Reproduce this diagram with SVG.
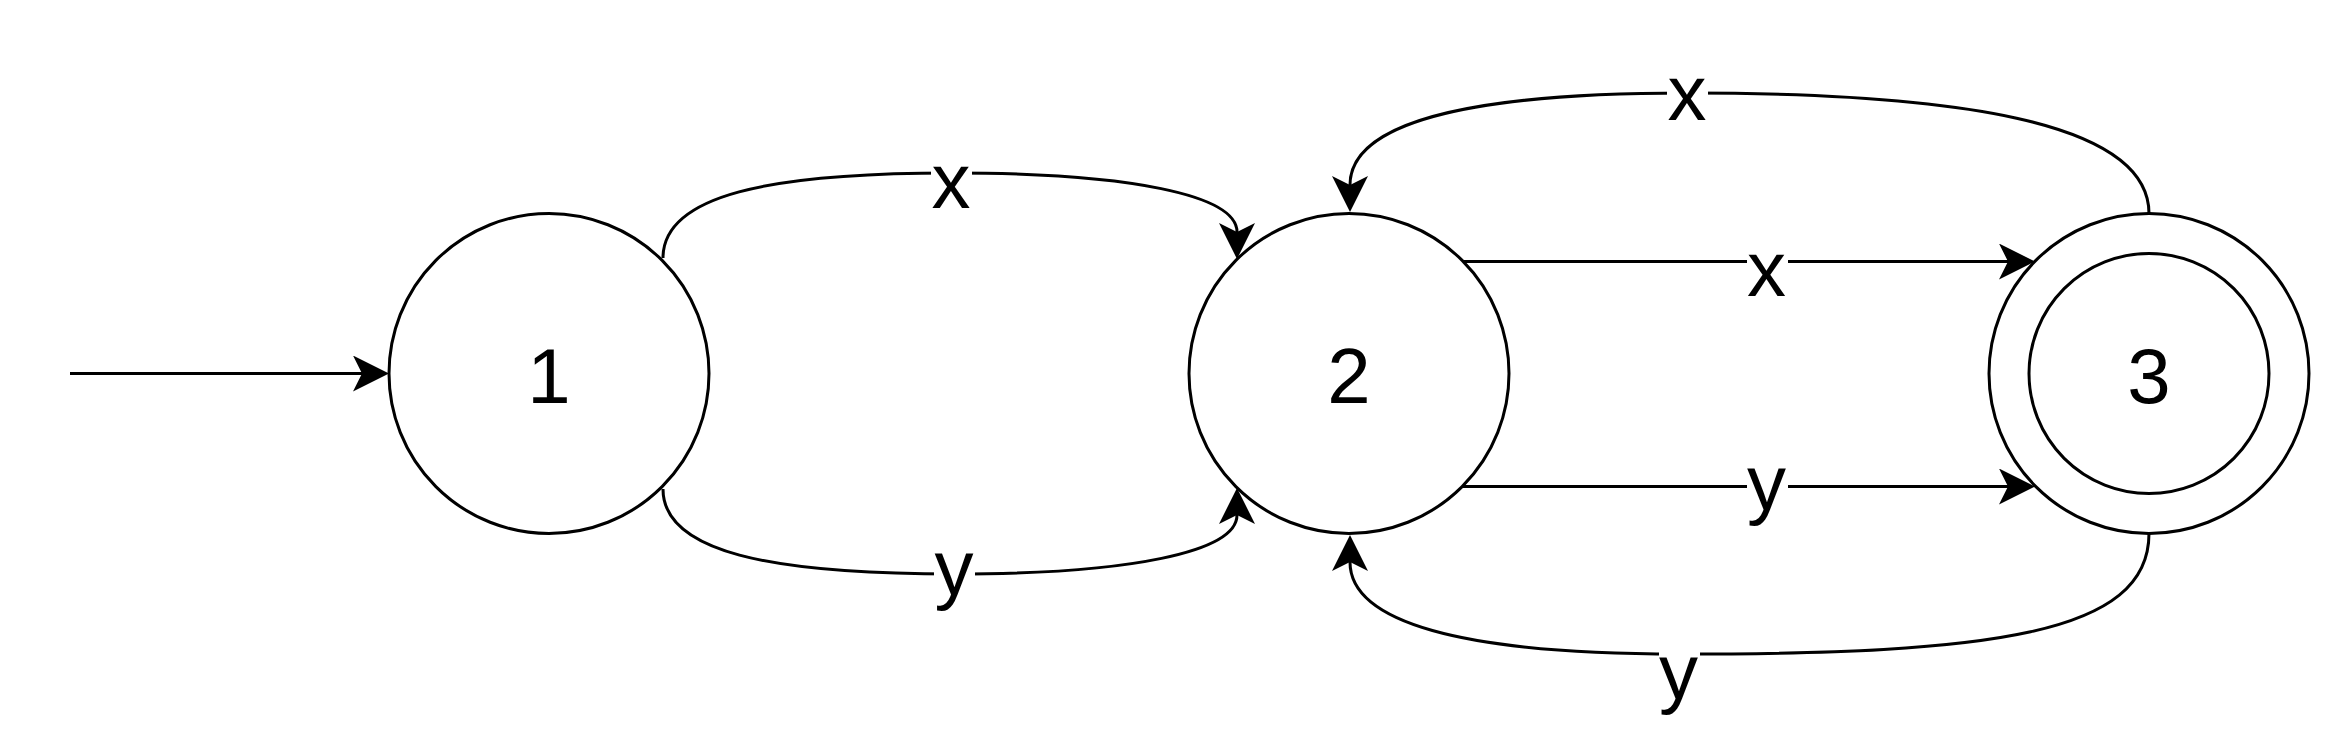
<svg xmlns="http://www.w3.org/2000/svg" width="2352" height="756" viewBox="0 0 2352 756">
<style>
.node{fill:#fff;stroke:#000;stroke-width:3}
.lbl{font-family:"Liberation Sans",Arial,sans-serif;font-size:78px;fill:#000;text-anchor:middle}
.edge{fill:none;stroke:#000;stroke-width:3;marker-end:url(#arr)}
.plain{fill:none;stroke:#000;stroke-width:3}
.bg{fill:#fff}
</style>
<defs>
<marker id="arr" markerUnits="userSpaceOnUse" viewBox="0 0 36 36" refX="9" refY="18" markerWidth="36" markerHeight="36" orient="auto">
<path d="M36,18 L0,0 L9,18 L0,36 Z" fill="#000"/>
</marker>
</defs>
<rect width="2352" height="756" fill="#fff"/>
<g id="connectors">
<path class="edge" d="M70,373.5 L362,373.5"/>
<g id="e12x">
<path class="plain" d="M663,258 C663,195 770,173 951,173"/>
<path class="edge" d="M951,173 C1130,173 1237,195 1237,232"/>
<rect class="bg" x="931" y="165" width="41" height="16"/>
<text class="lbl" x="951" y="208">x</text>
</g>
<g id="e12y">
<path class="plain" d="M663,489 C663,552 770,574 954,574"/>
<path class="edge" d="M954,574 C1130,574 1237,552 1237,515"/>
<rect class="bg" x="934" y="566" width="41" height="16"/>
<text class="lbl" x="954" y="595">y</text>
</g>
<g id="e23x">
<path class="edge" d="M1462,261.5 L2008,261.5"/>
<rect class="bg" x="1747" y="253" width="41" height="16"/>
<text class="lbl" x="1766.5" y="296">x</text>
</g>
<g id="e23y">
<path class="edge" d="M1462,486.5 L2008,486.5"/>
<rect class="bg" x="1747" y="478" width="41" height="16"/>
<text class="lbl" x="1766.5" y="510">y</text>
</g>
<g id="e32x">
<path class="plain" d="M2149,213.5 C2149,120 1950,93 1687,93"/>
<path class="edge" d="M1687,93 C1460,93 1350,125 1350,185"/>
<rect class="bg" x="1667" y="85" width="41" height="16"/>
<text class="lbl" x="1687" y="120">x</text>
</g>
<g id="e32y">
<path class="plain" d="M2149,533.5 C2149,635 1990,654 1679,654"/>
<path class="edge" d="M1679,654 C1460,654 1350,622 1350,562"/>
<rect class="bg" x="1659" y="646" width="41" height="16"/>
<text class="lbl" x="1678.5" y="699">y</text>
</g>
</g>
<g id="n1">
<circle class="node" cx="549" cy="373.5" r="160"/>
<text class="lbl" x="549" y="403">1</text>
</g>
<g id="n2">
<circle class="node" cx="1349" cy="373.5" r="160"/>
<text class="lbl" x="1349" y="403">2</text>
</g>
<g id="n3">
<circle class="node" cx="2149" cy="373.5" r="160"/>
<circle class="node" cx="2149" cy="373.5" r="120"/>
<text class="lbl" x="2149" y="403">3</text>
</g>
</svg>
